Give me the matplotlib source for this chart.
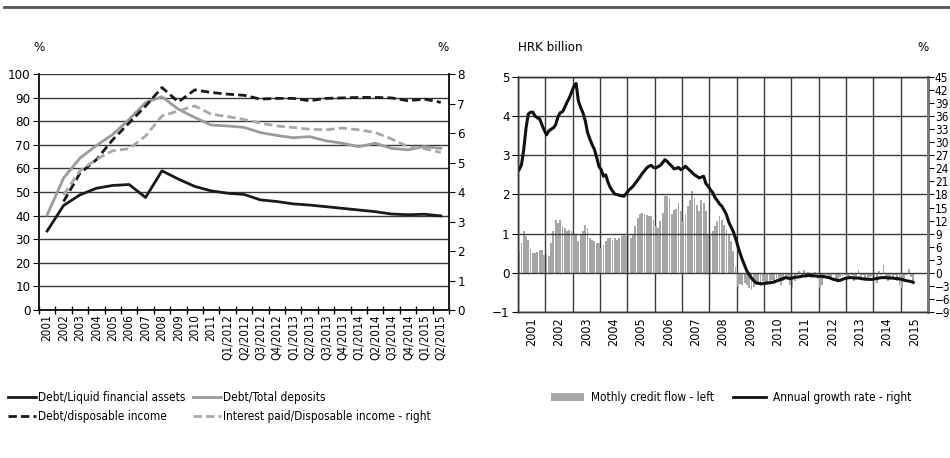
import numpy as np
import matplotlib
matplotlib.use('Agg')
import matplotlib.pyplot as plt
from matplotlib.lines import Line2D
from matplotlib.patches import Patch

plt.rcParams['font.family'] = ['Liberation Sans Narrow', 'DejaVu Sans']
plt.rcParams['font.stretch'] = 'condensed'

# ---- left chart data ----
categories = ['2001', '2002', '2003', '2004', '2005', '2006', '2007', '2008', '2009',
              '2010', '2011', 'Q1/2012', 'Q2/2012', 'Q3/2012', 'Q4/2012', 'Q1/2013',
              'Q2/2013', 'Q3/2013', 'Q4/2013', 'Q1/2014', 'Q2/2014', 'Q3/2014',
              'Q4/2014', 'Q1/2015', 'Q2/2015']
debt_liquid = [33.5, 44.3, 48.8, 51.6, 52.8, 53.2, 47.7, 59.0, 55.5, 52.4, 50.5, 49.5, 49.0,
               46.7, 46.0, 45.0, 44.5, 43.8, 43.1, 42.4, 41.7, 40.7, 40.4, 40.6, 39.9]
debt_deposits = [40.3, 55.9, 64.4, 69.7, 74.4, 80.8, 87.9, 90.4, 85.1, 81.6, 78.4, 78.0, 77.4,
                 75.2, 74.0, 73.0, 73.5, 71.7, 70.7, 69.2, 70.7, 68.5, 67.9, 69.3, 68.5]
debt_income = [np.nan, 46.0, 58.0, 63.7, 72.2, 79.3, 86.4, 94.3, 88.2, 93.3, 92.2, 91.5, 91.0,
               89.4, 89.7, 89.7, 88.7, 89.7, 89.9, 90.1, 90.1, 89.9, 88.7, 89.4, 88.0]
interest_income = [np.nan, 3.9, 4.72, 5.11, 5.40, 5.47, 5.90, 6.58, 6.75, 6.92, 6.64, 6.56, 6.46,
                   6.34, 6.24, 6.19, 6.13, 6.11, 6.17, 6.11, 6.02, 5.80, 5.54, 5.47, 5.34]

# ---- right chart data (monthly, Jan 2001 - Jun 2015) ----
years = [str(y) for y in range(2001, 2016)]
credit_flow = [
    0.55, 0.77, 1.06, 0.94, 0.83, 0.60, 0.50, 0.50, 0.53, 0.57, 0.57, 0.46,   # 2001
    0.47, 0.43, 0.77, 1.06, 1.36, 1.28, 1.36, 1.19, 1.15, 1.06, 1.10, 1.06,   # 2002
    1.00, 0.98, 0.81, 0.98, 1.06, 1.23, 1.15, 0.90, 0.85, 0.81, 0.77, 0.77,   # 2003
    0.64, 0.72, 0.81, 0.88, 0.90, 0.85, 0.90, 0.85, 0.90, 0.94, 0.98, 0.94,   # 2004
    0.98, 0.90, 0.98, 1.19, 1.40, 1.50, 1.53, 1.49, 1.47, 1.45, 1.45, 1.36,   # 2005
    1.19, 1.15, 1.32, 1.53, 1.96, 1.96, 1.91, 1.49, 1.60, 1.62, 1.79, 1.57,   # 2006
    1.32, 1.49, 1.70, 1.87, 2.09, 1.91, 1.74, 1.57, 1.87, 1.79, 1.57, 1.00,   # 2007
    0.98, 1.06, 1.19, 1.32, 1.45, 1.36, 1.23, 1.10, 0.98, 0.81, 0.55, 0.15,   # 2008
    -0.35, -0.28, -0.30, -0.25, -0.30, -0.38, -0.44, -0.35, -0.30, -0.28, -0.33, -0.22,  # 2009
    -0.32, -0.30, -0.22, -0.18, -0.25, -0.20, -0.15, -0.30, -0.22, -0.12, -0.08, -0.30,  # 2010
    -0.35, -0.20, -0.05, 0.05, -0.10, 0.08, -0.05, 0.03, -0.12, -0.08, 0.02, -0.15,      # 2011
    -0.40, -0.30, -0.08, -0.05, -0.10, -0.12, -0.05, -0.15, -0.20, -0.10, -0.08, -0.05,  # 2012
    -0.12, -0.15, -0.05, -0.20, -0.10, 0.08, -0.12, -0.05, -0.22, -0.15, -0.10, -0.08,   # 2013
    -0.10, -0.25, 0.05, -0.05, 0.20, -0.12, -0.20, -0.10, -0.15, -0.05, -0.20, -0.30,    # 2014
    -0.40, -0.15, -0.05, 0.10, -0.10, -0.25,                                             # 2015
]
annual_growth = [
    23.7, 24.8, 28.3, 33.2, 36.5, 36.9, 36.9, 36.0, 35.6, 35.4, 34.0, 32.8,   # 2001
    31.7, 32.6, 33.0, 33.3, 34.0, 35.8, 36.8, 37.0, 38.0, 39.2, 40.2, 41.5,   # 2002
    42.8, 43.5, 39.5, 38.0, 36.8, 35.0, 32.3, 30.8, 29.5, 28.4, 26.6, 24.5,   # 2003
    23.7, 22.2, 22.5, 20.8, 19.6, 18.8, 18.1, 18.0, 17.8, 17.7, 17.6, 18.2,   # 2004
    18.9, 19.4, 19.9, 20.6, 21.3, 22.0, 22.8, 23.4, 24.1, 24.5, 24.7, 24.2,   # 2005
    24.1, 24.4, 24.7, 25.3, 26.0, 25.6, 25.0, 24.5, 23.9, 24.0, 24.2, 23.7,   # 2006
    24.0, 24.5, 24.0, 23.5, 23.0, 22.5, 22.2, 21.8, 22.0, 22.2, 20.5, 19.9,   # 2007
    19.1, 18.4, 17.3, 16.6, 15.8, 15.3, 14.4, 13.4, 11.7, 10.6, 9.5, 8.0,     # 2008
    6.2, 4.5, 3.0, 1.7, 0.4, -0.4, -1.2, -1.8, -2.3, -2.4, -2.5, -2.5,        # 2009
    -2.4, -2.3, -2.3, -2.2, -2.1, -1.9, -1.7, -1.5, -1.3, -1.1, -1.2, -1.3,   # 2010
    -1.2, -1.0, -1.0, -0.9, -0.8, -0.7, -0.7, -0.6, -0.6, -0.7, -0.7, -0.8,   # 2011
    -0.8, -0.8, -0.9, -1.0, -1.1, -1.3, -1.5, -1.6, -1.8, -1.7, -1.5, -1.3,   # 2012
    -1.2, -1.1, -1.1, -1.2, -1.2, -1.2, -1.3, -1.4, -1.4, -1.5, -1.5, -1.5,   # 2013
    -1.4, -1.3, -1.2, -1.1, -1.1, -1.1, -1.2, -1.2, -1.2, -1.3, -1.3, -1.4,   # 2014
    -1.5, -1.7, -1.8, -1.9, -2.0, -2.2,                                       # 2015
]

BLACK = '#1a1a1a'
GREY = '#9b9b9b'
GREY_D = '#a8a8a8'
BAR = '#a6a6a6'
GRID = '#3a3a3a'
DASH = (3, 1.5)

fig = plt.figure(figsize=(9.5, 4.58), dpi=100)
fig.add_artist(Line2D([0.004, 1.0], [0.984, 0.984], color='#555555', lw=2))

# ================= left chart =================
ax1 = fig.add_axes([0.041, 0.323, 0.4316, 0.5153])
ax1r = ax1.twinx()
x = np.arange(len(categories))
ax1.plot(x, debt_liquid, color=BLACK, lw=2, zorder=3)
ax1.plot(x, debt_deposits, color=GREY, lw=2, zorder=3)
ax1.plot(x, debt_income, color=BLACK, lw=2, dashes=DASH, zorder=3)
ax1r.plot(x, interest_income, color=GREY_D, lw=2, dashes=DASH)

ax1.set_xlim(-0.5, len(categories) - 0.5)
ax1.set_ylim(0, 100)
ax1r.set_ylim(0, 8)
ax1.set_yticks(range(0, 101, 10))
ax1r.set_yticks(range(0, 9))
ax1.set_xticks(np.arange(-0.5, len(categories), 1))
ax1.set_xticklabels([])
ax1.set_xticks(x, minor=True)
ax1.set_xticklabels(categories, minor=True, rotation=90, fontsize=8.5)
ax1.tick_params(axis='x', which='major', direction='inout', length=6, width=1)
ax1.tick_params(axis='x', which='minor', length=0, pad=3)
ax1.tick_params(axis='y', direction='out', length=4, labelsize=9.5, pad=2)
ax1r.tick_params(axis='y', direction='out', length=4, labelsize=9.5, pad=2)
ax1.grid(axis='y', color=GRID, lw=1)
ax1.set_axisbelow(True)
for a in (ax1, ax1r):
    a.spines['top'].set_visible(False)
    for s in ('left', 'right', 'bottom'):
        a.spines[s].set_color(BLACK)
        a.spines[s].set_linewidth(1.2)

fig.text(0.041, 0.897, '%', fontsize=9.5, ha='center', va='center')
fig.text(0.466, 0.897, '%', fontsize=9.5, ha='center', va='center')

left_handles = [Line2D([], [], color=BLACK, lw=2),
                Line2D([], [], color=BLACK, lw=2, dashes=DASH),
                Line2D([], [], color=GREY, lw=2),
                Line2D([], [], color=GREY_D, lw=2, dashes=DASH)]
left_labels = ['Debt/Liquid financial assets', 'Debt/disposable income',
               'Debt/Total deposits', 'Interest paid/Disposable income - right']
fig.legend(left_handles, left_labels, ncol=2, loc='upper left',
           bbox_to_anchor=(0.003, 0.157), frameon=False, fontsize=8.5,
           handlelength=2.4, handletextpad=0.2, columnspacing=0.6, labelspacing=0.5,
           borderaxespad=0)

# ================= right chart =================
ax2 = fig.add_axes([0.5453, 0.3188, 0.4315, 0.5131])
ax2r = ax2.twinx()
m = np.arange(len(credit_flow)) + 0.5
ax2.bar(m, credit_flow, width=0.8, color=BAR, zorder=2)
ax2r.plot(m, annual_growth, color='#111111', lw=2.2)

ax2.set_xlim(0, 12 * len(years))
ax2.set_ylim(-1, 5)
ax2r.set_ylim(-9, 45)
ax2.set_yticks(range(-1, 6))
ax2r.set_yticks(range(-9, 46, 3))
ax2.set_xticks(np.arange(0, 12 * len(years) + 1, 12))
ax2.set_xticklabels([])
ax2.set_xticks(np.arange(6, 12 * len(years), 12), minor=True)
ax2.set_xticklabels(years, minor=True, rotation=90, fontsize=9)
ax2.tick_params(axis='x', which='both', length=0, pad=4)
ax2.tick_params(axis='y', direction='out', length=4, labelsize=9.5, pad=2)
ax2r.tick_params(axis='y', direction='out', length=4, labelsize=8.5, pad=1)
ax2.grid(axis='x', color=GRID, lw=1)
ax2.set_axisbelow(True)
for yv in range(-1, 6):
    ax2.axhline(yv, color=GRID, lw=1, zorder=2.5)
for a in (ax2, ax2r):
    for s in ('left', 'bottom', 'top'):
        a.spines[s].set_color(GRID)
        a.spines[s].set_linewidth(1)
    a.spines['right'].set_color('#777777')
    a.spines['right'].set_linewidth(2)

fig.text(0.5453, 0.897, 'HRK billion', fontsize=9.5, ha='left', va='center')
fig.text(0.972, 0.897, '%', fontsize=9.5, ha='center', va='center')

right_handles = [Patch(facecolor=BAR, edgecolor='none'),
                 Line2D([], [], color='#111111', lw=2)]
right_labels = ['Mothly credit flow - left', 'Annual growth rate - right']
fig.legend(right_handles, right_labels, ncol=2, loc='upper left',
           bbox_to_anchor=(0.575, 0.157), frameon=False, fontsize=8.5,
           handlelength=2.8, handletextpad=0.6, columnspacing=1.6, borderaxespad=0)

fig.savefig('out.png', dpi=100)
